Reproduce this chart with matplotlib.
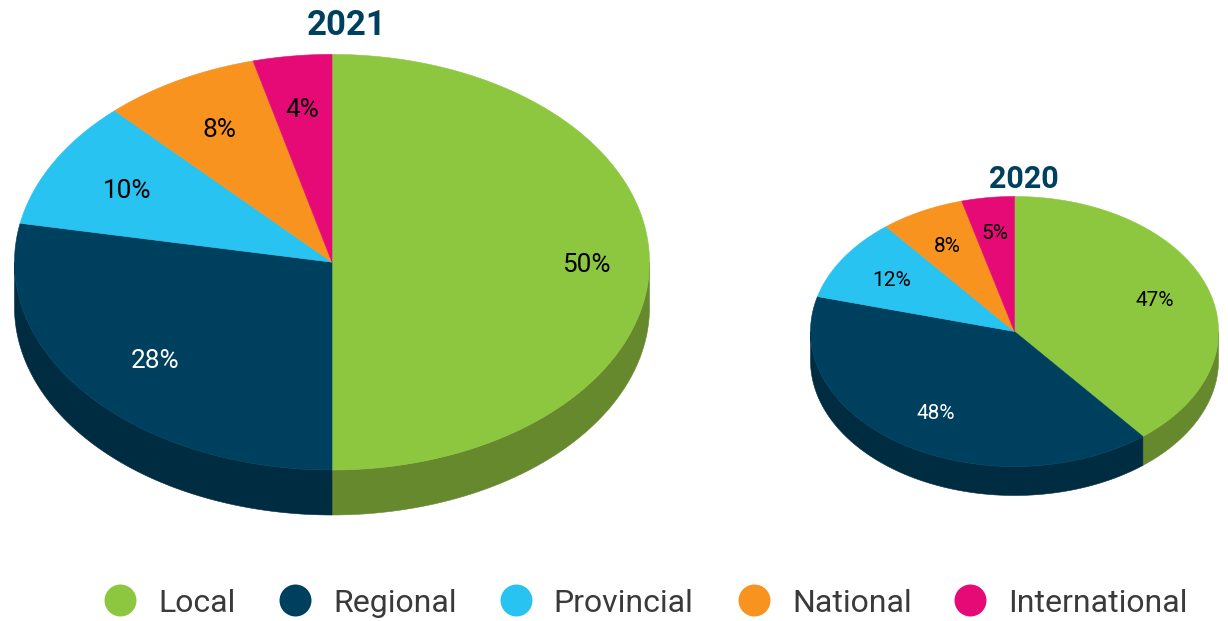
import numpy as np
import matplotlib
matplotlib.use("Agg")
import matplotlib.pyplot as plt

plt.rcParams['font.family'] = ['Roboto', 'DejaVu Sans']

categories = ['Local', 'Regional', 'Provincial', 'National', 'International']
values_2021 = [50, 28, 10, 8, 4]
values_2020 = [47, 48, 12, 8, 5]

top_colors = ['#8DC73F', '#00405F', '#29C3F1', '#F7931E', '#E50A76']
side_colors = ['#66892E', '#002C42', '#1C8AAB', '#B06A15', '#A30754']
label_colors = ['black', 'white', 'black', 'black', 'black']

W, H = 1228, 621


def ellipse_xy(t, cx, cy, rx, ry):
    # t is the clockwise angle from twelve o'clock, in radians
    return cx + rx * np.sin(t), cy - ry * np.cos(t)


def draw_pie(ax, values, cx, cy, rx, ry, depth, label_r, fontsize):
    shares = np.array(values) / sum(values)
    edges = np.concatenate([[0], np.cumsum(shares)]) * 2 * np.pi

    # the rim first, only the part of each slice that faces the viewer
    for i in range(len(values)):
        a = max(edges[i], np.pi / 2)
        b = min(edges[i + 1], 3 * np.pi / 2)
        if b <= a:
            continue
        t = np.linspace(a, b, 200)
        x, y = ellipse_xy(t, cx, cy, rx, ry)
        ax.fill(np.r_[x, x[::-1]], np.r_[y, y[::-1] + depth],
                color=side_colors[i], lw=0.4, zorder=2)

    for i in range(len(values)):
        t = np.linspace(edges[i], edges[i + 1], 300)
        x, y = ellipse_xy(t, cx, cy, rx, ry)
        ax.fill(np.r_[cx, x], np.r_[cy, y], color=top_colors[i], lw=0.4, zorder=3)

        mid = (edges[i] + edges[i + 1]) / 2
        lx, ly = ellipse_xy(mid, cx, cy, rx * label_r[i], ry * label_r[i])
        ax.text(lx, ly, '%d%%' % values[i], color=label_colors[i], fontsize=fontsize,
                ha='center', va='center_baseline', zorder=4)


fig = plt.figure(figsize=(W / 100, H / 100), dpi=100)
ax = fig.add_axes([0, 0, 1, 1])
ax.set_xlim(0, W)
ax.set_ylim(H, 0)
ax.axis('off')

draw_pie(ax, values_2021, 332, 262.2, 317.5, 207.8, 45, [0.8, 0.725, 0.735, 0.738, 0.75], 18.8)
draw_pie(ax, values_2020, 1014.5, 331.5, 204, 135, 29, [0.73, 0.71, 0.715, 0.725, 0.745], 15)

ax.text(347, 22, '2021', color='#00405F', fontsize=25, fontweight='bold',
        ha='center', va='center_baseline')
ax.text(1024, 176, '2020', color='#00405F', fontsize=22, fontweight='bold',
        ha='center', va='center_baseline')

# legend
legend_x = [120, 295, 515.5, 754, 970]
for name, color, x in zip(categories, top_colors, legend_x):
    ax.scatter([x], [600], s=530, color=color, linewidths=0, zorder=3)
    ax.text(x + 38, 601, name, color='#3A3A3A', fontsize=23,
            ha='left', va='center_baseline')

fig.savefig('out.png', dpi=100)
